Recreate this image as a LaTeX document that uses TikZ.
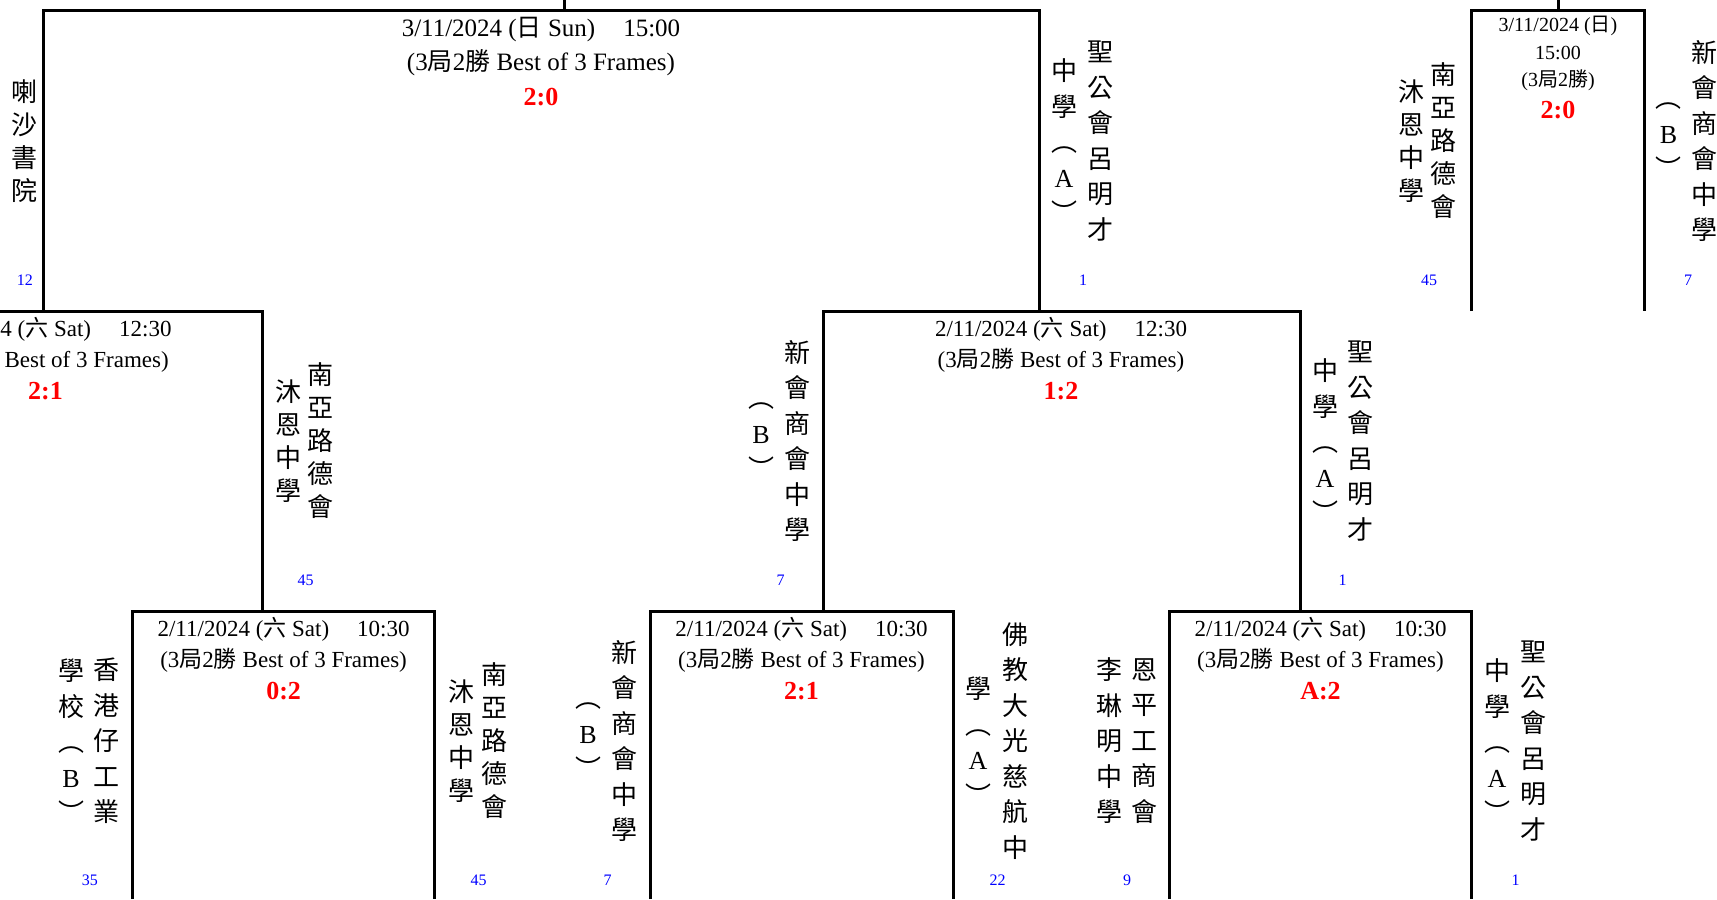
\documentclass[tikz,border=0pt]{standalone}
\usepackage{fontspec}
\setmainfont{Liberation Serif}
\newfontfamily\cjk{Noto Sans CJK TC}
\newcommand{\zh}[1]{{\cjk #1}}

\begin{document}
\begin{tikzpicture}[x=0.5pt,y=-0.5pt,
 bracket/.style={line width=1.5pt},
 finaldate/.style={anchor=base,inner sep=0pt,font=\fontsize{12.5}{15}\selectfont},
 matchdate/.style={anchor=base,inner sep=0pt,font=\fontsize{11.5}{14}\selectfont},
 smalldate/.style={anchor=base,inner sep=0pt,font=\fontsize{10}{12}\selectfont},
 result/.style={anchor=base,inner sep=0pt,text=red,font=\bfseries\fontsize{13}{15}\selectfont},
 team/.style={align=center,inner sep=0pt,font=\cjk\fontsize{13}{17.75}\selectfont},
 teamtight/.style={team,font=\cjk\fontsize{13}{16.5}\selectfont},
 seed/.style={anchor=base,inner sep=0pt,text=blue,font=\fontsize{8}{10}\selectfont}]
 \useasboundingbox (0,0) rectangle (1717,899);
 \clip (0,0) rectangle (1717,899);

 % bracket corners
 \coordinate (bot) at (0,899);
 \coordinate (fin-l) at (43.8,11);
 \coordinate (fin-r) at (1039,11);
 \coordinate (fin-up) at (564,11);
 \coordinate (sfc-l) at (1471.7,11);
 \coordinate (sfc-r) at (1644,11);
 \coordinate (sfc-up) at (1558,11);
 \coordinate (sfa-l) at (-170,311);
 \coordinate (sfa-r) at (262,311);
 \coordinate (sfb-l) at (823,311);
 \coordinate (sfb-r) at (1300,311);
 \coordinate (qa-l) at (132.5,611);
 \coordinate (qa-r) at (434.7,611);
 \coordinate (qb-l) at (650,611);
 \coordinate (qb-r) at (953,611);
 \coordinate (qc-l) at (1169.5,611);
 \coordinate (qc-r) at (1471.7,611);

 \draw[bracket] (fin-up) -- ++(0,-15);
 \draw[bracket] (fin-l |- sfa-l) -- (fin-l) -- (fin-r) -- (fin-r |- sfb-l);
 \draw[bracket] (sfc-up) -- ++(0,-15);
 \draw[bracket] (sfc-l |- sfa-l) -- (sfc-l) -- (sfc-r) -- (sfc-r |- sfa-l);
 \draw[bracket] (sfa-l |- qa-l) -- (sfa-l) -- (sfa-r) -- (sfa-r |- qa-l);
 \draw[bracket] (sfb-l |- qb-l) -- (sfb-l) -- (sfb-r) -- (sfb-r |- qc-l);
 \draw[bracket] (qa-l |- bot) -- (qa-l) -- (qa-r) -- (qa-r |- bot);
 \draw[bracket] (qb-l |- bot) -- (qb-l) -- (qb-r) -- (qb-r |- bot);
 \draw[bracket] (qc-l |- bot) -- (qc-l) -- (qc-r) -- (qc-r |- bot);

 % match details
 \node[finaldate] (fin-date) at (541,37) {3/11/2024 (\zh{日} Sun)\hspace{14pt}15:00};
 \node[finaldate] (fin-bo3) at (541,71) {(3\zh{局}2\zh{勝} Best of 3 Frames)};
 \node[result] (fin-score) at (541,105) {2:0};

 \node[smalldate] (sfc-date) at (1558,32) {3/11/2024 (\zh{日})};
 \node[smalldate] (sfc-time) at (1558,59.5) {15:00};
 \node[smalldate] (sfc-bo3) at (1558,87) {(3\zh{局}2\zh{勝})};
 \node[result] (sfc-score) at (1558,119) {2:0};

 \node[matchdate] (sfa-date) at (45.5,336) {2/11/2024 (\zh{六} Sat)\hspace{14pt}12:30};
 \node[matchdate] (sfa-bo3) at (45.5,367) {(3\zh{局}2\zh{勝} Best of 3 Frames)};
 \node[result] (sfa-score) at (45.5,399) {2:1};

 \node[matchdate] (sfb-date) at (1061,336) {2/11/2024 (\zh{六} Sat)\hspace{14pt}12:30};
 \node[matchdate] (sfb-bo3) at (1061,367) {(3\zh{局}2\zh{勝} Best of 3 Frames)};
 \node[result] (sfb-score) at (1061,399) {1:2};

 \node[matchdate] (qa-date) at (283.6,636) {2/11/2024 (\zh{六} Sat)\hspace{14pt}10:30};
 \node[matchdate] (qa-bo3) at (283.6,667) {(3\zh{局}2\zh{勝} Best of 3 Frames)};
 \node[result] (qa-score) at (283.6,699) {0:2};

 \node[matchdate] (qb-date) at (801.5,636) {2/11/2024 (\zh{六} Sat)\hspace{14pt}10:30};
 \node[matchdate] (qb-bo3) at (801.5,667) {(3\zh{局}2\zh{勝} Best of 3 Frames)};
 \node[result] (qb-score) at (801.5,699) {2:1};

 \node[matchdate] (qc-date) at (1320.5,636) {2/11/2024 (\zh{六} Sat)\hspace{14pt}10:30};
 \node[matchdate] (qc-bo3) at (1320.5,667) {(3\zh{局}2\zh{勝} Best of 3 Frames)};
 \node[result] (qc-score) at (1320.5,699) {A:2};

 % teams, top row
 \node[teamtight] (t1) at (24,141) {喇\\沙\\書\\院};
 \node[seed] (s1) at (25,285) {12};
 \node[team] (t2a) at (1100.5,141) {聖\\公\\會\\呂\\明\\才};
 \node[team] (t2b) at (1064,141) {中\\學\\︵\\\textrm{A}\\︶};
 \node[seed] (s2) at (1083,285) {1};
 \node[teamtight] (t3a) at (1443.5,141) {南\\亞\\路\\德\\會};
 \node[teamtight] (t3b) at (1411.5,141) {沐\\恩\\中\\學};
 \node[seed] (s3) at (1429,285) {45};
 \node[team] (t4a) at (1704,141) {新\\會\\商\\會\\中\\學};
 \node[team] (t4b) at (1668.5,141) {︵\\\textrm{B}\\︶};
 \node[seed] (s4) at (1688,285) {7};

 % teams, middle row
 \node[teamtight] (t5a) at (320.8,441) {南\\亞\\路\\德\\會};
 \node[teamtight] (t5b) at (288,441) {沐\\恩\\中\\學};
 \node[seed] (s5) at (305.5,585) {45};
 \node[team] (t6a) at (797,441) {新\\會\\商\\會\\中\\學};
 \node[team] (t6b) at (761,441) {︵\\\textrm{B}\\︶};
 \node[seed] (s6) at (780.7,585) {7};
 \node[team] (t7a) at (1360,441) {聖\\公\\會\\呂\\明\\才};
 \node[team] (t7b) at (1325,441) {中\\學\\︵\\\textrm{A}\\︶};
 \node[seed] (s7) at (1342.5,585) {1};

 % teams, bottom row
 \node[team] (t8a) at (106,741) {香\\港\\仔\\工\\業};
 \node[team] (t8b) at (71,741) {學\\校\\︵\\\textrm{B}\\︶};
 \node[seed] (s8) at (89.8,885) {35};
 \node[teamtight] (t9a) at (494,741) {南\\亞\\路\\德\\會};
 \node[teamtight] (t9b) at (461,741) {沐\\恩\\中\\學};
 \node[seed] (s9) at (478.5,885) {45};
 \node[team] (t10a) at (624,741) {新\\會\\商\\會\\中\\學};
 \node[team] (t10b) at (588,741) {︵\\\textrm{B}\\︶};
 \node[seed] (s10) at (607.7,885) {7};
 \node[team] (t11a) at (1015,741) {佛\\教\\大\\光\\慈\\航\\中};
 \node[team] (t11b) at (978,741) {學\\︵\\\textrm{A}\\︶};
 \node[seed] (s11) at (997.5,885) {22};
 \node[team] (t12a) at (1144,741) {恩\\平\\工\\商\\會};
 \node[team] (t12b) at (1109,741) {李\\琳\\明\\中\\學};
 \node[seed] (s12) at (1127,885) {9};
 \node[team] (t13a) at (1533,741) {聖\\公\\會\\呂\\明\\才};
 \node[team] (t13b) at (1497,741) {中\\學\\︵\\\textrm{A}\\︶};
 \node[seed] (s13) at (1515.5,885) {1};
\end{tikzpicture}
\end{document}
